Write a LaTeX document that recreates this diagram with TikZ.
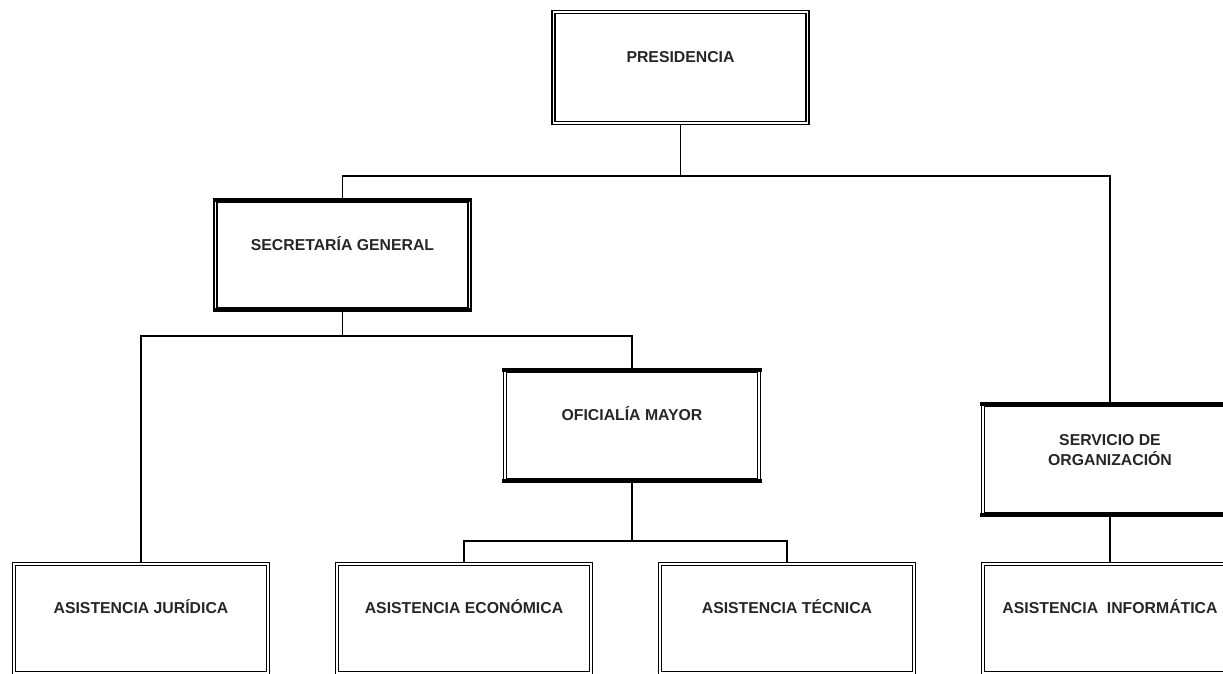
\documentclass[tikz,border=0pt]{standalone}
\usepackage{fontspec}
\setmainfont{Liberation Sans}
\usetikzlibrary{backgrounds}
\begin{document}
\begin{tikzpicture}[x=1pt,y=-1pt,
  box/.style={draw, line width=1.4pt, double=white, double distance=1.5pt, inner sep=0pt, minimum width=254pt, minimum height=#1},
  box/.default=109pt,
  lbl/.style={font=\bfseries\fontsize{15.8}{20}\selectfont, inner sep=0pt, text height=11.5pt, text depth=0pt, align=center, text=black!85},
  conn/.style={line width=1.5pt},
  bar/.style={line width=4.3pt, shorten <=-2.15pt, shorten >=-2.15pt}]
\useasboundingbox (0,0) rectangle (1223,674);
\clip (0,0) rectangle (1223,674);
% boxes
\node[box=111pt] (pres) at (680.5,67.5) {};
\node[box=108pt] (sec) at (342.5,255) {};
\node[box] (ofi) at (632,425.5) {};
\node[box] (serv) at (1110,459.5) {};
\node[box] (jur) at (141,618.5) {};
\node[box] (eco) at (464,618.5) {};
\node[box] (tec) at (787,618.5) {};
\node[box] (inf) at (1110,618.5) {};
% thick top/bottom edges
\foreach \n in {sec,ofi,serv}{
  \draw[bar] (\n.north west) -- (\n.north east);
  \draw[bar] (\n.south west) -- (\n.south east);
}
% labels
\node[lbl] (tpres) at ([yshift=10.5pt]pres.center) {PRESIDENCIA};
\node[lbl] (tsec) at ([yshift=10pt]sec.center) {SECRETARÍA GENERAL};
\node[lbl] (tofi) at ([yshift=10.5pt]ofi.center) {OFICIALÍA MAYOR};
\node[lbl, anchor=north] (tserv) at ([yshift=5.5pt]serv.center) {SERVICIO DE\\ORGANIZACIÓN};
\node[lbl] (tjur) at ([yshift=11pt]jur.center) {ASISTENCIA JURÍDICA};
\node[lbl] (teco) at ([yshift=11pt]eco.center) {ASISTENCIA ECONÓMICA};
\node[lbl] (ttec) at ([yshift=11pt]tec.center) {ASISTENCIA TÉCNICA};
\node[lbl] (tinf) at ([yshift=11pt]inf.center) {ASISTENCIA\ \ INFORMÁTICA};
% junctions
\coordinate (j1) at (680.5,176);
\coordinate (j2) at (342.5,336);
\coordinate (j3) at (632,541);
\begin{scope}[on background layer]
\draw[conn] (pres.south) -- (j1);
\draw[conn] (sec.north) -- (sec.north |- j1) -- (serv.north |- j1) -- (serv.north);
\draw[conn] (sec.south) -- (j2);
\draw[conn] (jur.north) -- (jur.north |- j2) -- (ofi.north |- j2) -- (ofi.north);
\draw[conn] (ofi.south) -- (j3);
\draw[conn] (eco.north) -- (eco.north |- j3) -- (tec.north |- j3) -- (tec.north);
\draw[conn] (serv.south) -- (inf.north);
\end{scope}
\end{tikzpicture}
\end{document}
